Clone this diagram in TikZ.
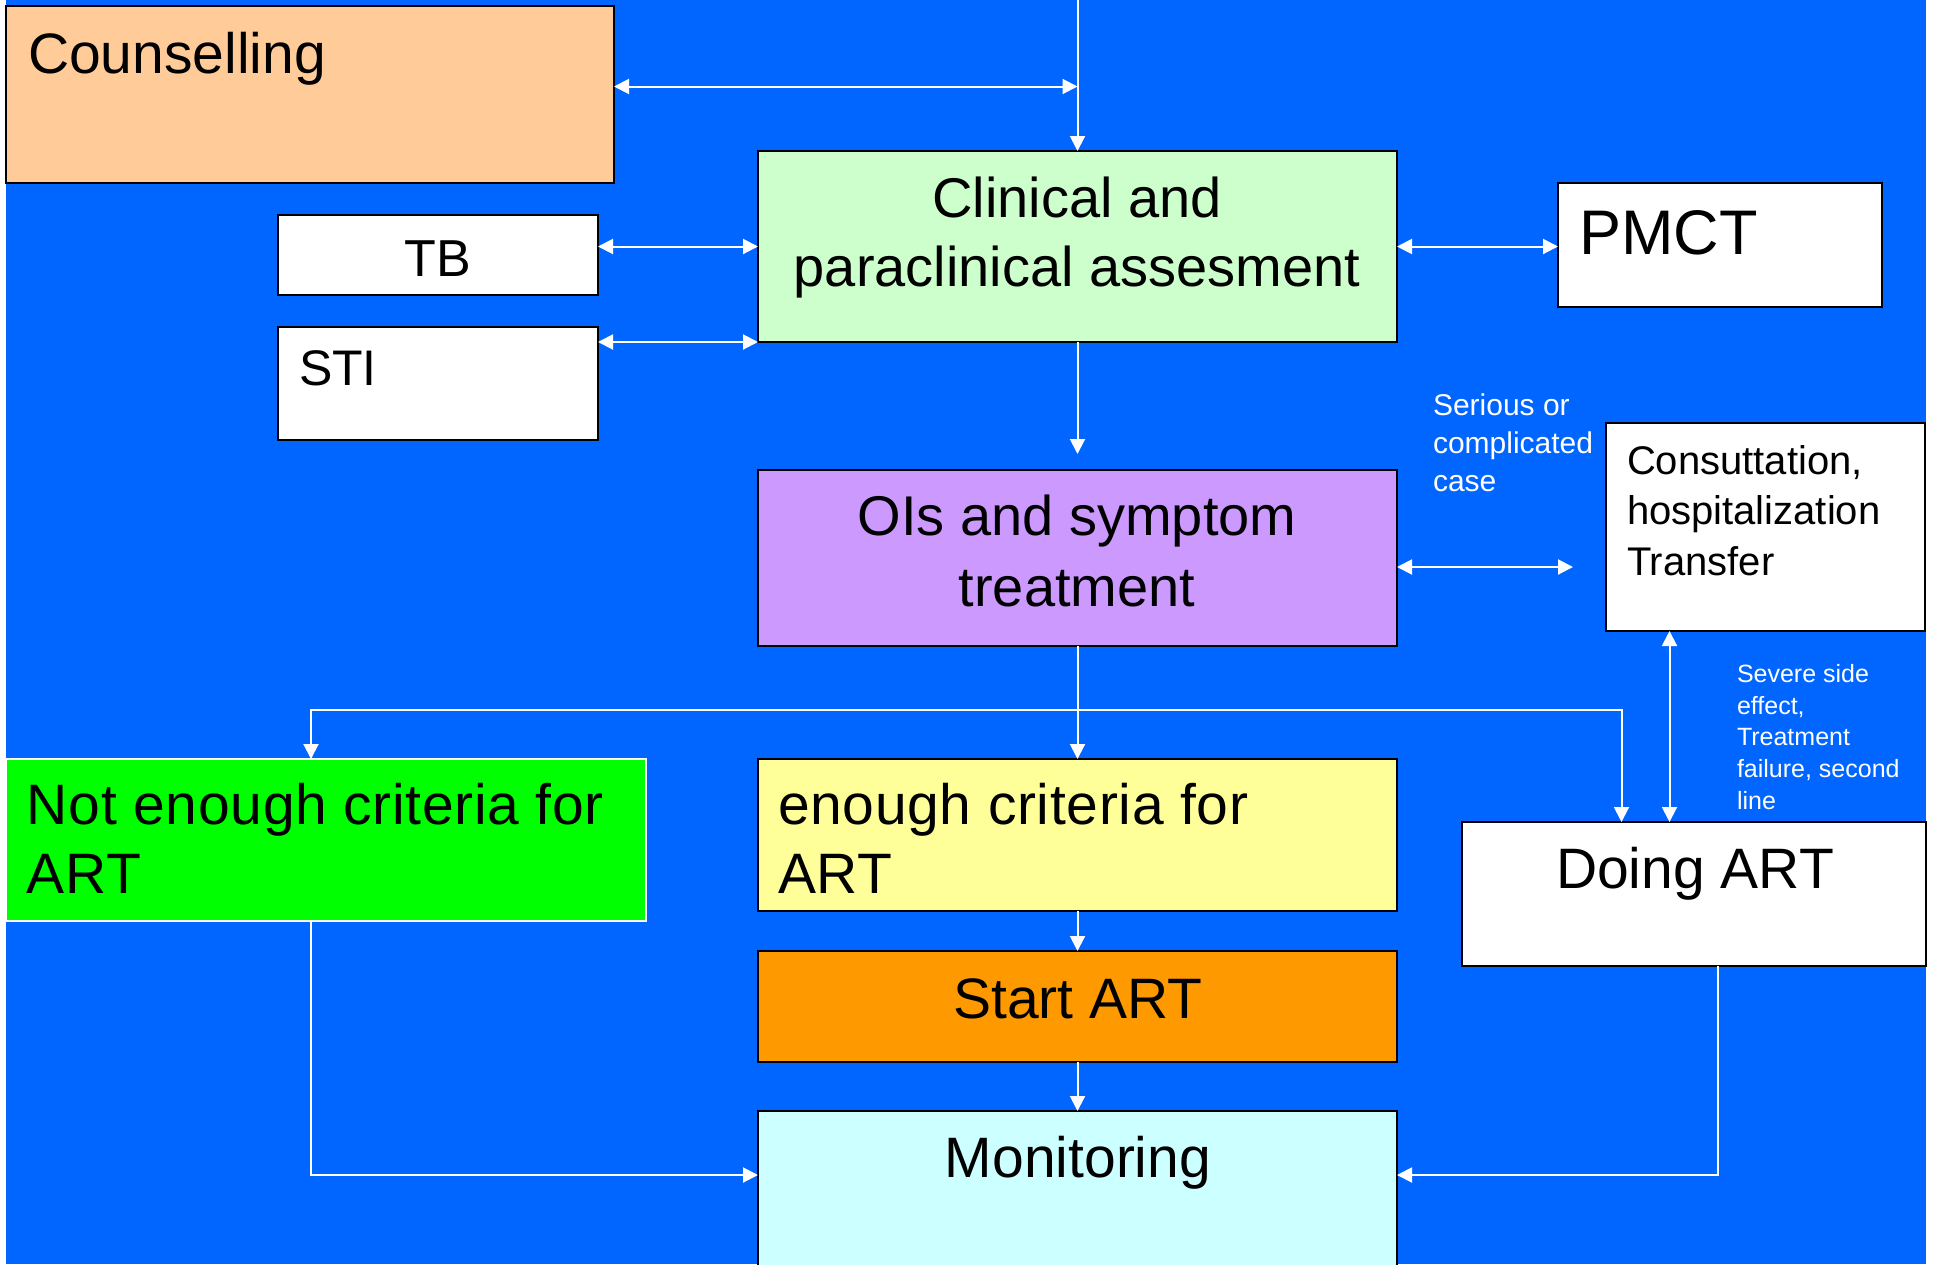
\documentclass[tikz,border=0pt]{standalone}
\usepackage{fontspec}
\setmainfont{Liberation Sans}
\usetikzlibrary{arrows.meta,calc}
\definecolor{bgblue}{HTML}{0066FF}
\definecolor{cpeach}{HTML}{FFCC99}
\definecolor{cmint}{HTML}{CCFFCC}
\definecolor{clilac}{HTML}{CC99FF}
\definecolor{cgreen}{HTML}{00FF00}
\definecolor{cyellow}{HTML}{FFFF99}
\definecolor{corange}{HTML}{FF9900}
\definecolor{ccyan}{HTML}{CCFFFF}
\newcommand\fmain{\fontsize{57}{69.5}\selectfont}
\newcommand\fclin{\fontsize{56}{69}\selectfont}
\begin{document}
\begin{tikzpicture}[x=1pt,y=-1pt,
  >={Triangle[length=15pt,width=15pt]},
  box/.style={draw=black,line width=2.5pt,inner sep=0pt,outer sep=0pt,anchor=north west,rectangle},
  lbl/.style={inner sep=0pt,outer sep=0pt,text=black},
  note/.style={inner sep=0pt,outer sep=0pt,text=white,align=left,anchor=base west},
  conn/.style={draw=white,line width=2pt}]
\useasboundingbox (0,0) rectangle (1935,1264);
\fill[white] (0,0) rectangle (1935,1264);
\fill[bgblue] (6,0) rectangle (1926,1264);
% boxes
\node[box,fill=cpeach,minimum width=608pt,minimum height=177pt] (counsel) at (6,6) {};
\node[box,fill=cmint,minimum width=639pt,minimum height=191pt] (clinical) at (758,151) {};
\node[box,fill=white,minimum width=320pt,minimum height=80pt] (tb) at (278,215) {};
\node[box,fill=white,minimum width=320pt,minimum height=113pt] (sti) at (278,327) {};
\node[box,fill=white,minimum width=324pt,minimum height=124pt] (pmct) at (1558,183) {};
\node[box,fill=clilac,minimum width=639pt,minimum height=176pt] (ois) at (758,470) {};
\node[box,fill=white,minimum width=319pt,minimum height=208pt] (consult) at (1606,423) {};
\node[box,draw=white,fill=cgreen,minimum width=640pt,minimum height=162pt] (notenough) at (6,759) {};
\node[box,fill=cyellow,minimum width=639pt,minimum height=152pt] (enough) at (758,759) {};
\node[box,fill=white,minimum width=464pt,minimum height=144pt] (doing) at (1462,822) {};
\node[box,fill=corange,minimum width=639pt,minimum height=111pt] (start) at (758,951) {};
\node[box,fill=ccyan,minimum width=639pt,minimum height=200pt] (monitor) at (758,1111) {};
% texts (multi-line nodes: base anchor = last line baseline)
\node[lbl,anchor=base west,font=\fmain] (tcounsel) at (28,73) {Counselling};
\node[lbl,anchor=base,align=center,font=\fclin] (tclinical) at (1077,286) {Clinical and\\paraclinical assesment};
\node[lbl,anchor=base,font=\fontsize{52}{60}\selectfont] (ttb) at (438,276) {TB};
\node[lbl,anchor=base west,font=\fontsize{50}{60}\selectfont] (tsti) at (299,385) {STI};
\node[lbl,anchor=base west,font=\fontsize{63}{70}\selectfont] (tpmct) at (1579,254) {PMCT};
\node[lbl,anchor=base,align=center,font=\fontsize{56}{71}\selectfont] (tois) at (1077,606) {OIs and symptom\\treatment};
\node[note,font=\fontsize{30}{38}\selectfont] (tserious) at (1433,491.5) {Serious or\\complicated\\case};
\node[lbl,anchor=base west,align=left,font=\fontsize{40}{50.5}\selectfont] (tconsult) at (1627,575) {Consuttation,\\hospitalization\\Transfer};
\node[note,font=\fontsize{25}{31.6}\selectfont] (tsevere) at (1737,809) {Severe side\\effect,\\Treatment\\failure, second\\line};
\node[lbl,anchor=base west,align=left,font=\fmain\addfontfeatures{LetterSpace=1.2}] (tnotenough) at (27,893.5) {Not enough criteria for\\ART};
\node[lbl,anchor=base west,align=left,font=\fmain\addfontfeatures{LetterSpace=1.2}] (tenough) at (778,893.5) {enough criteria for\\ART};
\node[lbl,anchor=base,font=\fmain] (tdoing) at (1695,888) {Doing ART};
\node[lbl,anchor=base,font=\fmain] (tstart) at (1078,1018) {Start ART};
\node[lbl,anchor=base,font=\fmain] (tmonitor) at (1078,1177) {Monitoring};
% connector helpers
\coordinate (top) at (1077.5,0);
\coordinate (jc) at (1077.5,86.5);
\coordinate (row1) at (1077.5,246.5);
\coordinate (row2) at (1077.5,567);
\coordinate (bl) at (311,710);
\coordinate (br) at (1621.5,710);
\coordinate (dx) at (1669.5,710);
\coordinate (mr) at (1718,1175);
% connectors
\draw[conn,->] (top) -- (clinical.north);
\draw[conn,<->] (jc -| counsel.east) -- (jc);
\draw[conn,<->] (row1 -| tb.east) -- (row1 -| clinical.west);
\draw[conn,<->] (row1 -| clinical.east) -- (row1 -| pmct.west);
\draw[conn,<->] (sti.east |- clinical.south west) -- (clinical.south west);
\draw[conn,->,shorten >=16pt] (clinical.south) -- (ois.north);
\draw[conn,<->,shorten >=33pt] (row2 -| ois.east) -- (row2 -| consult.west);
\draw[conn,->] (ois.south) -- (enough.north);
\draw[conn,->] (bl -| ois.south) -- (bl) -- (bl |- notenough.north);
\draw[conn,->] (bl -| ois.south) -- (br) -- (br |- doing.north);
\draw[conn,<->] (dx |- consult.south) -- (dx |- doing.north);
\draw[conn,->] (enough.south) -- (start.north);
\draw[conn,->] (start.south) -- (monitor.north);
\draw[conn,->] (bl |- notenough.south) -- (bl |- mr) -- (mr -| monitor.west);
\draw[conn,->] (mr |- doing.south) -- (mr) -- (mr -| monitor.east);
\end{tikzpicture}
\end{document}
